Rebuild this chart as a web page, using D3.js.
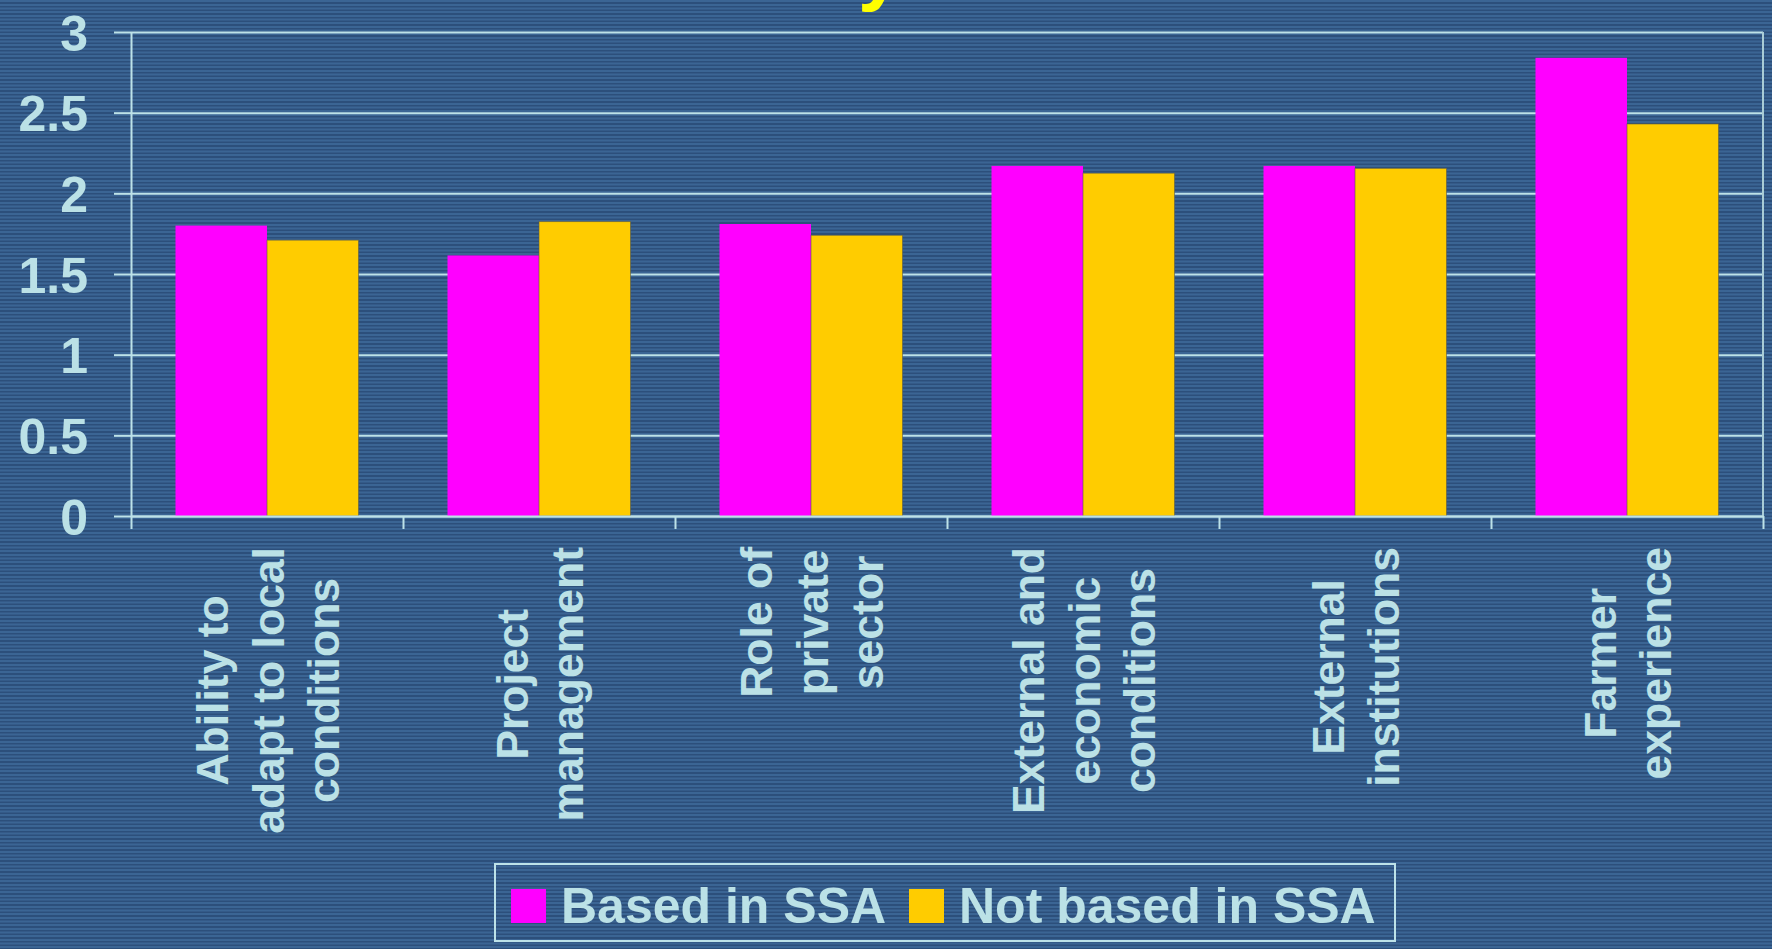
<!DOCTYPE html>
<html>
<head>
<meta charset="utf-8">
<script src="https://cdn.jsdelivr.net/npm/d3@7/dist/d3.min.js"></script>
<style>
  html, body { margin: 0; padding: 0; background: #30577f; }
  svg { display: block; }
  text { font-family: "Liberation Sans", Arial, sans-serif; font-weight: bold; }
</style>
</head>
<body>
<svg id="chart" width="1772" height="949"></svg>
<script>
// ---- data ----
const categories = [
  "Ability to adapt to local conditions",
  "Project management",
  "Role of private sector",
  "External and economic conditions",
  "External institutions",
  "Farmer experience"
];
const categoryLines = [
  ["Ability to", "adapt to local", "conditions"],
  ["Project", "management"],
  ["Role of", "private", "sector"],
  ["External and", "economic", "conditions"],
  ["External", "institutions"],
  ["Farmer", "experience"]
];
const seriesNames = ["Based in SSA", "Not based in SSA"];
const basedInSSA = [1.80, 1.615, 1.81, 2.17, 2.17, 2.84];
const notBasedInSSA = [1.71, 1.825, 1.74, 2.125, 2.155, 2.43];
const yTickValues = [0, 0.5, 1, 1.5, 2, 2.5, 3];
const yTickLabels = ["0", "0.5", "1", "1.5", "2", "2.5", "3"];
const titleFragment = "y";

// ---- styles ----
const colors = ["#ff00ff", "#ffcc00"];
const lineColor = "#bde2e8";
const textColor = "#bbe1e6";

const svg = d3.select("#chart");

// background stripes
const defs = svg.append("defs");
const pat = defs.append("pattern").attr("id", "stripes")
  .attr("patternUnits", "userSpaceOnUse").attr("width", 20).attr("height", 11);
pat.append("rect").attr("width", 20).attr("height", 11).attr("fill", "#2c4f7b");
[0, 4, 7.5].forEach(y0 => pat.append("rect").attr("y", y0).attr("width", 20).attr("height", 2).attr("fill", "#3b6594"));
svg.append("rect").attr("width", 1772).attr("height", 949).attr("fill", "url(#stripes)");

// title fragment (cut off at top)
svg.append("text").attr("x", 858).attr("y", -5).attr("font-size", 80)
  .attr("fill", "#ffff00").text(titleFragment);

const X0 = 131, X1 = 1763, YT = 32, YB = 516;
const x = d3.scaleBand().domain(categories).range([X0, X1]).paddingInner(0).paddingOuter(0);
const bw = x.bandwidth();
const xs = d3.scaleBand().domain(seriesNames).range([44.5, bw - 44.5]).padding(0);
const y = d3.scaleLinear().domain([0, 3]).range([YB, YT]);

// gridlines
const grid = svg.append("g").attr("transform", `translate(${X0},0)`)
  .call(d3.axisLeft(y).tickValues(yTickValues).tickSize(-(X1 - X0)).tickFormat(""));
grid.select(".domain").remove();
grid.selectAll("line").attr("stroke", lineColor).attr("stroke-width", 2);

// y axis with outer ticks and labels
const yAxis = svg.append("g").attr("transform", `translate(${X0},0)`)
  .call(d3.axisLeft(y).tickValues(yTickValues).tickSize(17).tickSizeOuter(0).tickPadding(26)
    .tickFormat((d, i) => yTickLabels[i]));
yAxis.select(".domain").attr("stroke", lineColor).attr("stroke-width", 2);
yAxis.selectAll("line").attr("stroke", lineColor).attr("stroke-width", 2);
yAxis.selectAll("text").attr("fill", textColor).attr("font-size", 50)
  .attr("font-family", '"Liberation Sans", Arial, sans-serif').attr("font-weight", "bold")
  .attr("dy", "0.36em");

// right border
svg.append("line").attr("x1", X1).attr("x2", X1).attr("y1", y(3)).attr("y2", y(0))
  .attr("stroke", "#a9ccd6").attr("stroke-width", 2);

// bars
const seriesData = [basedInSSA, notBasedInSSA];
seriesData.forEach((vals, si) => {
  svg.append("g").selectAll("rect").data(vals).join("rect")
    .attr("x", (d, i) => x(categories[i]) + xs(seriesNames[si]))
    .attr("y", d => y(d))
    .attr("width", xs.bandwidth())
    .attr("height", d => y(0) - y(d))
    .attr("fill", colors[si])
    .attr("stroke", si === 1 ? "rgba(90,90,70,0.6)" : "none")
    .attr("stroke-width", 1);
});

// x axis: boundary ticks
const xb = d3.scaleLinear().domain([0, categories.length]).range([X0, X1]);
const xAxis = svg.append("g").attr("transform", `translate(0,${YB})`)
  .call(d3.axisBottom(xb).tickValues(d3.range(categories.length + 1)).tickSize(13).tickSizeOuter(0).tickFormat(""));
xAxis.select(".domain").attr("stroke", lineColor).attr("stroke-width", 2);
xAxis.selectAll("line").attr("stroke", lineColor).attr("stroke-width", 2);

// x labels, rotated
const fs = 44.5, lh = 55.5, capH = 33, topY = 547;
categoryLines.forEach((lines, i) => {
  const cx = x(categories[i]) + bw / 2;
  const g = svg.append("g").attr("transform", `translate(${cx},0) rotate(-90)`);
  const texts = lines.map(t => g.append("text").attr("font-size", fs).attr("fill", textColor)
    .attr("text-anchor", "middle").text(t));
  const W = d3.max(texts, t => t.node().getComputedTextLength());
  const n = lines.length;
  const start = -((n - 1) * lh + capH) / 2 + capH;
  texts.forEach((t, k) => t.attr("x", -(topY + W / 2)).attr("y", start + k * lh));
});

// legend
const lg = svg.append("g");
lg.append("rect").attr("x", 495).attr("y", 864).attr("width", 900).attr("height", 77)
  .attr("fill", "none").attr("stroke", lineColor).attr("stroke-width", 2);
const legendX = [511, 909];
seriesNames.forEach((s, i) => {
  lg.append("rect").attr("x", legendX[i]).attr("y", 889).attr("width", 35).attr("height", 34)
    .attr("fill", colors[i]);
  lg.append("text").attr("x", legendX[i] + 50).attr("y", 923).attr("font-size", 50)
    .attr("fill", textColor).text(s);
});
</script>
</body>
</html>
